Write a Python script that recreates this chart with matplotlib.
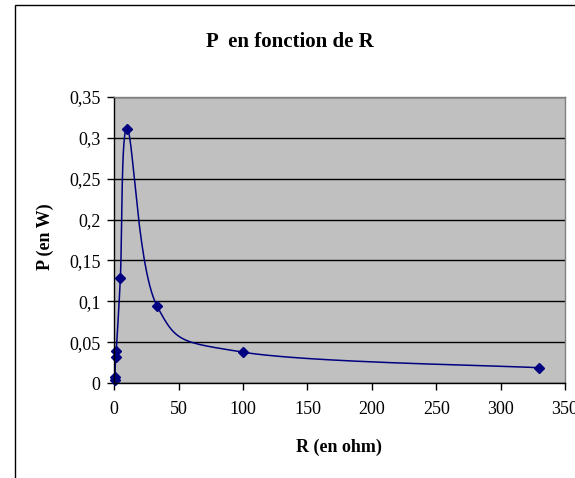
import numpy as np
import matplotlib
matplotlib.use("Agg")
import matplotlib.pyplot as plt
from matplotlib.patches import Rectangle
from matplotlib.ticker import FixedLocator, FixedFormatter

# Data
R_ohm = [0.2, 0.5, 1.0, 1.5, 4.7, 10, 33, 100, 330]
P_watt = [0.004, 0.008, 0.032, 0.040, 0.128, 0.311, 0.095, 0.038, 0.019]
x_ticks = [0, 50, 100, 150, 200, 250, 300, 350]
x_tick_labels = ["0", "50", "100", "150", "200", "250", "300", "350"]
y_ticks = [0, 0.05, 0.1, 0.15, 0.2, 0.25, 0.3, 0.35]
y_tick_labels = ["0", "0,05", "0,1", "0,15", "0,2", "0,25", "0,3", "0,35"]
title = "P  en fonction de R"
xlabel = "R (en ohm)"
ylabel = "P (en W)"

W, H = 575, 478
DPI = 100
fig = plt.figure(figsize=(W / DPI, H / DPI), dpi=DPI)
fig.patch.set_facecolor("white")
serif = ["Liberation Serif", "DejaVu Serif"]

# chart area border
fig.add_artist(Rectangle((15 / W, -0.1), 1.0, 1 - 4.5 / H + 0.1, transform=fig.transFigure,
                         fill=False, edgecolor="black", linewidth=1.0))

x0, x1 = 114.3, 565.0
y_top, y_bot = 96.7, 383.3
ax = fig.add_axes([x0 / W, 1 - y_bot / H, (x1 - x0) / W, (y_bot - y_top) / H])
ax.set_facecolor("#C0C0C0")
ax.set_xlim(0, 350)
ax.set_ylim(0, 0.35)

for s in ["top", "right"]:
    ax.spines[s].set_color("#808080")
    ax.spines[s].set_linewidth(1.0)
for s in ["left", "bottom"]:
    ax.spines[s].set_color("black")
    ax.spines[s].set_linewidth(1.0)

ax.xaxis.set_major_locator(FixedLocator(x_ticks))
ax.xaxis.set_major_formatter(FixedFormatter(x_tick_labels))
ax.yaxis.set_major_locator(FixedLocator(y_ticks))
ax.yaxis.set_major_formatter(FixedFormatter(y_tick_labels))
ax.tick_params(direction="out", length=5, width=1, colors="black", labelsize=13, pad=5)
for lab in ax.get_xticklabels() + ax.get_yticklabels():
    lab.set_family(serif)
ax.xaxis.set_tick_params(pad=8)
ax.yaxis.grid(True, color="black", linewidth=1.0)
ax.set_axisbelow(True)

# Excel-like smoothed line (Catmull-Rom in display space)
pts = ax.transData.transform(np.column_stack([R_ohm, P_watt]))
n = len(pts)
curve = [pts[0]]
t = np.linspace(0, 1, 30)[1:]
for i in range(n - 1):
    p0 = pts[i - 1] if i > 0 else pts[i]
    p1 = pts[i]
    p2 = pts[i + 1]
    p3 = pts[i + 2] if i + 2 < n else pts[i + 1]
    c1 = p1 + (p2 - p0) / 6.0
    c2 = p2 - (p3 - p1) / 6.0
    tt = t[:, None]
    seg = ((1 - tt) ** 3) * p1 + 3 * ((1 - tt) ** 2) * tt * c1 + 3 * (1 - tt) * tt ** 2 * c2 + tt ** 3 * p2
    curve.extend(seg)
curve = ax.transData.inverted().transform(np.array(curve))
ax.plot(curve[:, 0], curve[:, 1], color="#000080", linewidth=1.1, clip_on=False)
ax.plot(R_ohm, P_watt, linestyle="none", marker="D", markersize=5.5, color="#000080", clip_on=False)

fig.text(290 / W, 1 - 42 / H, title, ha="center", va="center", fontsize=15,
         fontweight="bold", family=serif)
fig.text(339 / W, 1 - 447 / H, xlabel, ha="center", va="center", fontsize=13,
         fontweight="bold", family=serif)
fig.text(45 / W, 1 - 237 / H, ylabel, ha="center", va="center", fontsize=13,
         fontweight="bold", family=serif, rotation=90)

fig.savefig("out.png", dpi=DPI)
